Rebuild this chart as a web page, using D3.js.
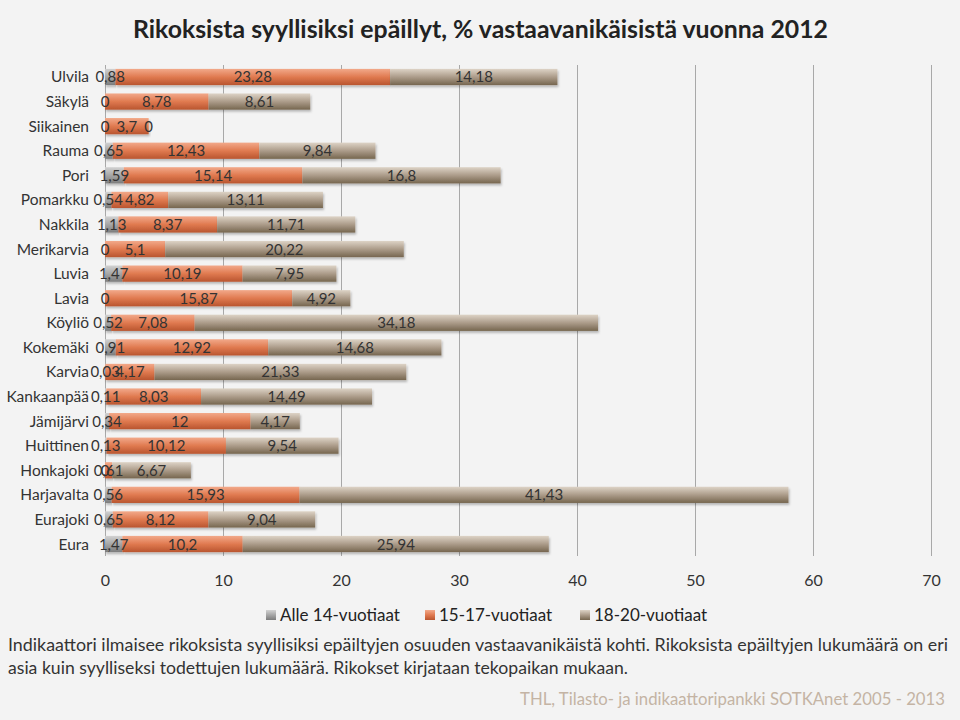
<!DOCTYPE html>
<html><head><meta charset="utf-8">
<script src="https://cdn.jsdelivr.net/npm/d3@7"></script>
<style>
html,body{margin:0;padding:0;background:#f3f3f3;}
svg{display:block;font-family:Lato,"Open Sans",sans-serif;}
</style></head>
<body><svg id="chart" width="960" height="720"></svg>
<script>
const categories = ["Ulvila","Säkylä","Siikainen","Rauma","Pori","Pomarkku","Nakkila","Merikarvia","Luvia","Lavia","Köyliö","Kokemäki","Karvia","Kankaanpää","Jämijärvi","Huittinen","Honkajoki","Harjavalta","Eurajoki","Eura"];
const alle14 = [0.88,0,0,0.65,1.59,0.54,1.13,0,1.47,0,0.52,0.91,0.03,0.11,0.34,0.13,0,0.56,0.65,1.47];
const v15_17 = [23.28,8.78,3.7,12.43,15.14,4.82,8.37,5.1,10.19,15.87,7.08,12.92,4.17,8.03,12,10.12,0.61,15.93,8.12,10.2];
const v18_20 = [14.18,8.61,0,9.84,16.8,13.11,11.71,20.22,7.95,4.92,34.18,14.68,21.33,14.49,4.17,9.54,6.67,41.43,9.04,25.94];
const seriesNames = ["Alle 14-vuotiaat","15-17-vuotiaat","18-20-vuotiaat"];
const xTicks = [0,10,20,30,40,50,60,70];
const title = "Rikoksista syyllisiksi epäillyt, % vastaavanikäisistä vuonna 2012";
const note1 = "Indikaattori ilmaisee rikoksista syyllisiksi epäiltyjen osuuden vastaavanikäistä kohti. Rikoksista epäiltyjen lukumäärä on eri";
const note2 = "asia kuin syylliseksi todettujen lukumäärä. Rikokset kirjataan tekopaikan mukaan.";
const source = "THL, Tilasto- ja indikaattoripankki SOTKAnet 2005 - 2013";

const svg = d3.select("#chart");
const fmt = v => String(v).replace(".", ",");

const defs = svg.append("defs");
const grads = [
  ["g0", "#d2d2d2", "#a6a6a6", "#7c7c7c"],
  ["g1", "#f2a98a", "#e07a50", "#b9552f"],
  ["g2", "#ddd3c6", "#ac9c8a", "#76664f"]
];
grads.forEach(([id,a,b,c]) => {
  const g = defs.append("linearGradient").attr("id", id).attr("x1",0).attr("y1",0).attr("x2",0).attr("y2",1);
  g.append("stop").attr("offset","0%").attr("stop-color",a);
  g.append("stop").attr("offset","50%").attr("stop-color",b);
  g.append("stop").attr("offset","100%").attr("stop-color",c);
});
const flt = defs.append("filter").attr("id","sh").attr("x","-5%").attr("y","-20%").attr("width","110%").attr("height","160%");
flt.append("feDropShadow").attr("dx",1).attr("dy",2).attr("stdDeviation",1.2).attr("flood-color","#000").attr("flood-opacity",0.25);

const x = d3.scaleLinear().domain([0,70]).range([105,931]);
const y = d3.scaleBand().domain(categories).range([64.7,556.3]).paddingInner(0.34).paddingOuter(0.17);

function fit(sel, w){ sel.attr("textLength", w).attr("lengthAdjust","spacingAndGlyphs"); return sel; }

// title
fit(svg.append("text").attr("x",133).attr("y",38)
  .attr("font-size",24).attr("font-weight","bold").attr("fill","#222").text(title), 695);

// grid
svg.append("g").selectAll("line").data(xTicks).join("line")
  .attr("x1",d=>x(d)+0.5).attr("x2",d=>x(d)+0.5).attr("y1",65).attr("y2",556)
  .attr("stroke","#a8a8a8").attr("stroke-width",1);

// x axis labels via d3 axis
const xAxis = d3.axisBottom(x).tickValues(xTicks).tickSize(0).tickPadding(0);
const ga = svg.append("g").attr("transform","translate(0,575)").call(xAxis);
ga.select(".domain").remove();
ga.selectAll("text").attr("font-size",16).attr("fill","#333").attr("font-family","Lato,sans-serif");

// stacked data
const stackData = categories.map((c,i)=>({cat:c, a:alle14[i], b:v15_17[i], c:v18_20[i]}));
const stack = d3.stack().keys(["a","b","c"])(stackData);

const bars = svg.append("g");
stack.forEach((layer,si)=>{
  bars.append("g").selectAll("rect").data(layer).join("rect")
    .attr("x",d=>x(d[0])).attr("width",d=>Math.max(0,x(d[1])-x(d[0])))
    .attr("y",d=>y(d.data.cat)).attr("height",y.bandwidth())
    .attr("fill",`url(#g${si})`).attr("filter","url(#sh)");
});
// labels
const lbl = svg.append("g");
stack.forEach((layer,si)=>{
  lbl.append("g").selectAll("text").data(layer).join("text")
    .attr("x",d=>x((d[0]+d[1])/2)).attr("y",d=>y(d.data.cat)+y.bandwidth()/2+5.5)
    .attr("text-anchor","middle").attr("font-size",15).attr("fill","#333")
    .text(d=>fmt(+(d[1]-d[0]).toFixed(2)));
});

// category labels
svg.append("g").selectAll("text").data(categories).join("text")
  .attr("x",89).attr("y",d=>y(d)+y.bandwidth()/2+5.5).attr("text-anchor","end")
  .attr("font-size",15.5).attr("fill","#333").text(d=>d);

// legend
const legX = [266, 425, 580];
const legendG = svg.append("g");
seriesNames.forEach((n,i)=>{
  legendG.append("rect").attr("x",legX[i]).attr("y",610).attr("width",10).attr("height",10).attr("fill",`url(#g${i})`);
  legendG.append("text").attr("x",legX[i]+14).attr("y",621).attr("font-size",17).attr("fill","#222").text(n);
});

// notes
fit(svg.append("text").attr("x",8).attr("y",651).attr("font-size",17).attr("fill","#333").text(note1), 940);
fit(svg.append("text").attr("x",8).attr("y",674).attr("font-size",17).attr("fill","#333").text(note2), 620);
fit(svg.append("text").attr("x",520).attr("y",705).attr("font-size",17).attr("fill","#c4b4a4").text(source), 425);
</script></body></html>
